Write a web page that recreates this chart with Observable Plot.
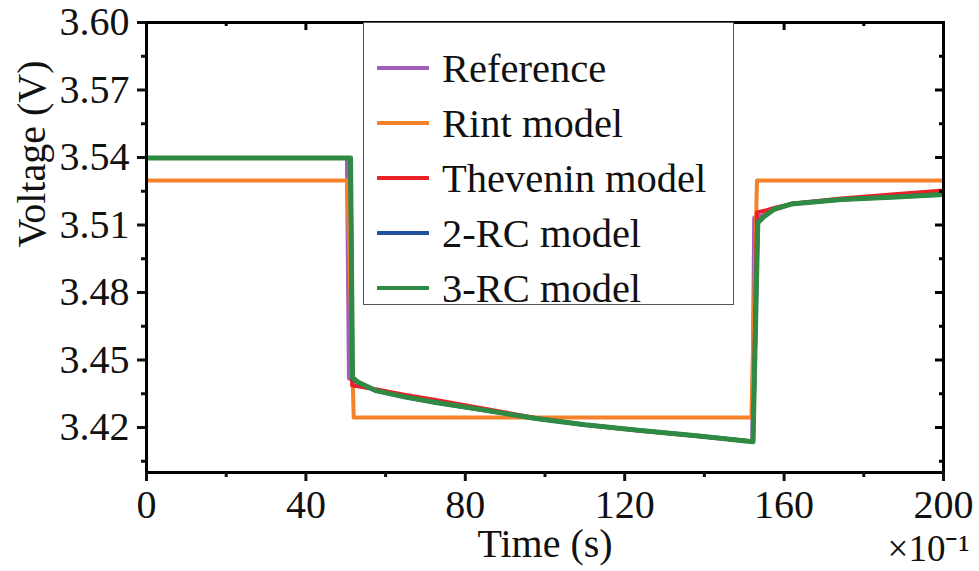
<!DOCTYPE html>
<html>
<head>
<meta charset="utf-8">
<script src="https://cdn.jsdelivr.net/npm/d3@7"></script>
<script src="https://cdn.jsdelivr.net/npm/@observablehq/plot@0.6"></script>
<style>
  html, body { margin: 0; padding: 0; background: #fff; }
  #wrap { position: relative; width: 979px; height: 571px; font-family: "Liberation Serif", "Times New Roman", serif; }
  #legend { position: absolute; left: 363px; top: 22px; width: 371px; height: 283px; border: 1.5px solid #555; background: #fff; box-sizing: border-box; }
  .row { position: absolute; left: 0; height: 56px; display: flex; align-items: center; font-size: 40.5px; color: #111; white-space: nowrap; }
  .row svg { margin-left: 13px; margin-right: 13px; }
</style>
</head>
<body>
<div id="wrap"><div id="chart"></div><div id="legend"></div></div>
<script>
// ---- data (time in units of 10^-1 s, voltage in V) ----
const seriesNames = ["Reference", "Rint model", "Thevenin model", "2-RC model", "3-RC model"];
const seriesColors = ["#a25db8", "#f5822b", "#ea2128", "#2250a0", "#2f8a43"];
const seriesWidths = [4, 4, 4, 4, 5];

const refT = [0, 50.3, 50.8, 53, 57.5, 65, 72.6, 85.2, 97.7, 110, 124, 138, 152.0, 152.5, 155, 157.5, 161.8, 174.4, 186.9, 200];
const refV = [3.5398, 3.5398, 3.4418, 3.4402, 3.4364, 3.4335, 3.4311, 3.4276, 3.4240, 3.4212, 3.4187, 3.4163, 3.4138, 3.5133, 3.5145, 3.5172, 3.5194, 3.5213, 3.5223, 3.5236];

const rintT = [0, 50.4, 52.0, 151.8, 153.2, 200];
const rintV = [3.5298, 3.5298, 3.4245, 3.4245, 3.5298, 3.5298];

const thevT = [0, 51.2, 51.6, 53, 57.5, 65, 72.6, 85.2, 97.7, 110, 124, 138, 152.2, 153.2, 155, 157.5, 161.8, 174.4, 186.9, 200];
const thevV = [3.5398, 3.5398, 3.4387, 3.4383, 3.4370, 3.4345, 3.4322, 3.4282, 3.4242, 3.4212, 3.4186, 3.4162, 3.4138, 3.5156, 3.5163, 3.5176, 3.5194, 3.5218, 3.5236, 3.5253];

const rc2T = [0, 51.2, 51.7, 52.5, 53.5, 57.5, 65, 72.6, 85.2, 97.7, 110, 124, 138, 152.2, 153.4, 155, 157.5, 161.8, 174.4, 186.9, 200];
const rc2V = [3.5398, 3.5398, 3.4416, 3.4405, 3.4395, 3.4364, 3.4335, 3.4311, 3.4276, 3.4240, 3.4212, 3.4187, 3.4163, 3.4137, 3.5112, 3.5138, 3.5170, 3.5193, 3.5213, 3.5224, 3.5237];

const rc3T = [0, 51.2, 51.7, 52.5, 53.5, 57.5, 65, 72.6, 85.2, 97.7, 110, 124, 138, 152.2, 153.4, 155, 157.5, 161.8, 174.4, 186.9, 200];
const rc3V = [3.5398, 3.5398, 3.4422, 3.4410, 3.4398, 3.4364, 3.4335, 3.4311, 3.4276, 3.4240, 3.4212, 3.4187, 3.4163, 3.4137, 3.5110, 3.5138, 3.5170, 3.5193, 3.5213, 3.5223, 3.5236];

const xTicks = [0, 40, 80, 120, 160, 200];
const xMinorTicks = [20, 60, 100, 140, 180];
const yTicks = [3.42, 3.45, 3.48, 3.51, 3.54, 3.57, 3.60];
const yMinorTicks = [3.405, 3.435, 3.465, 3.495, 3.525, 3.555, 3.585];
const xTitle = "Time (s)";
const yTitle = "Voltage (V)";
const xMultiplier = "×10⁻¹";

// ---- build table ----
const allT = [refT, rintT, thevT, rc2T, rc3T];
const allV = [refV, rintV, thevV, rc2V, rc3V];
const rows = [];
seriesNames.forEach((name, i) => {
  allT[i].forEach((t, j) => rows.push({series: name, t, v: allV[i][j]}));
});

const W = 979, H = 571, mL = 146, mR = 36, mT = 22, mB = 99;
const innerW = W - mL - mR, innerH = H - mT - mB;
const font = "'Liberation Serif', 'Times New Roman', serif";
const FS = 40;

const lineMarks = seriesNames.map((name, i) =>
  Plot.line(rows.filter(d => d.series === name), {
    x: "t", y: "v", stroke: seriesColors[i], strokeWidth: seriesWidths[i],
    strokeLinejoin: "round", strokeLinecap: "butt"
  })
);

const chart = Plot.plot({
  width: W, height: H,
  marginLeft: mL, marginRight: mR, marginTop: mT, marginBottom: mB,
  style: {fontFamily: font, fontSize: FS + "px", color: "#111", background: "#fff", overflow: "visible"},
  x: {domain: [0, 200]},
  y: {domain: [3.40, 3.60]},
  marks: [
    ...lineMarks,
    Plot.frame({stroke: "#000", strokeWidth: 3}),
    Plot.axisX(xTicks, {tickSize: 9, strokeWidth: 3, tickPadding: 8, fontSize: FS, fill: "#111", label: null}),
    Plot.axisX(xMinorTicks, {tickSize: 5, strokeWidth: 3, tickFormat: () => "", label: null}),
    Plot.axisY(yTicks, {tickSize: 9, strokeWidth: 3, tickPadding: 8, fontSize: FS, fill: "#111",
      tickFormat: d3.format(".2f"), label: null}),
    Plot.axisY(yMinorTicks, {tickSize: 5, strokeWidth: 3, tickFormat: () => "", label: null}),
    // mirrored inward ticks on top and right
    Plot.tickX(xTicks, {x: d => d, insetBottom: innerH - 8, strokeWidth: 3, stroke: "#000"}),
    Plot.tickX(xMinorTicks, {x: d => d, insetBottom: innerH - 4, strokeWidth: 3, stroke: "#000"}),
    Plot.tickY(yTicks, {y: d => d, insetLeft: innerW - 8, strokeWidth: 3, stroke: "#000"}),
    Plot.tickY(yMinorTicks, {y: d => d, insetLeft: innerW - 4, strokeWidth: 3, stroke: "#000"}),
    // axis titles and multiplier
    Plot.text([xTitle], {frameAnchor: "bottom", dy: 84, fontSize: FS, fill: "#111"}),
    Plot.text([yTitle], {frameAnchor: "left", dx: -114, rotate: -90, fontSize: FS, fill: "#111"}),
    Plot.text([xMultiplier], {frameAnchor: "bottom-right", dx: 26, dy: 88, fontSize: 37, fill: "#111", textAnchor: "end"})
  ]
});
document.getElementById("chart").appendChild(chart);

// ---- legend ----
const legend = document.getElementById("legend");
seriesNames.forEach((name, i) => {
  const row = document.createElement("div");
  row.className = "row";
  row.style.top = (17 + i * 55) + "px";
  row.innerHTML = `<svg width="52" height="10"><line x1="1" y1="5" x2="51" y2="5" stroke="${seriesColors[i]}" stroke-width="4" stroke-linecap="round"/></svg><span>${name}</span>`;
  legend.appendChild(row);
});
</script>
</body>
</html>
